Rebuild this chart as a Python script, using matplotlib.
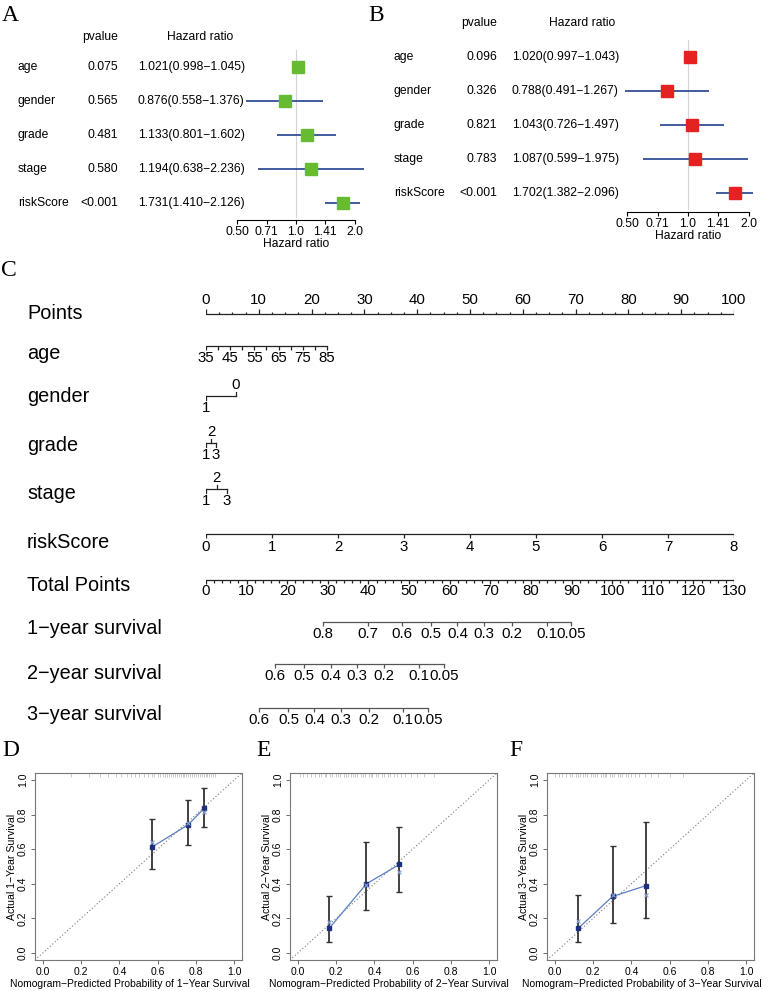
import numpy as np
import matplotlib
matplotlib.use("Agg")
import matplotlib.pyplot as plt
from matplotlib.transforms import blended_transform_factory as blend
from matplotlib.ticker import NullLocator

plt.rcParams['font.family'] = ['Liberation Sans', 'DejaVu Sans']

# ---------------- forest plots (A: univariate, B: multivariate) ----------------
variables = ['age', 'gender', 'grade', 'stage', 'riskScore']
a_pvalue = ['0.075', '0.565', '0.481', '0.580', '<0.001']
a_hr = [1.021, 0.876, 1.133, 1.194, 1.731]
a_low = [0.998, 0.558, 0.801, 0.638, 1.410]
a_high = [1.045, 1.376, 1.602, 2.236, 2.126]
b_pvalue = ['0.096', '0.326', '0.821', '0.783', '<0.001']
b_hr = [1.020, 0.788, 1.043, 1.087, 1.702]
b_low = [0.997, 0.491, 0.726, 0.599, 1.382]
b_high = [1.043, 1.267, 1.497, 1.975, 2.096]
hr_ticks = [0.50, 0.71, 1.0, 1.41, 2.0]
hr_tick_labels = ['0.50', '0.71', '1.0', '1.41', '2.0']

# ---------------- nomogram (C) ----------------
point_ticks = np.arange(0, 100.1, 2.5)
point_labels = list(range(0, 101, 10))
age_ticks = list(range(35, 86, 5))
age_labels = [35, 45, 55, 65, 75, 85]
age_points = (0, 22.9)          # points at age 35 and 85
gender_levels = ['0', '1']
gender_points = [5.7, 0]
grade_levels = ['1', '2', '3']
grade_points = [0, 0.95, 1.8]
stage_levels = ['1', '2', '3']
stage_points = [0, 2.0, 3.9]
risk_ticks = list(range(0, 9))
total_max = 130
total_ticks = np.arange(0, 131, 2)
total_labels = list(range(0, 131, 10))
surv1_labels = ['0.8', '0.7', '0.6', '0.5', '0.4', '0.3', '0.2', '0.1', '0.05']
surv1_total = [28.7, 39.8, 48.3, 55.4, 61.9, 68.4, 75.3, 83.9, 89.9]
surv2_labels = ['0.6', '0.5', '0.4', '0.3', '0.2', '0.1', '0.05']
surv2_total = [17.0, 24.2, 30.7, 37.1, 43.9, 52.4, 58.7]
surv3_labels = ['0.6', '0.5', '0.4', '0.3', '0.2', '0.1', '0.05']
surv3_total = [13.0, 20.3, 26.7, 33.2, 40.1, 48.4, 54.7]

# ---------------- calibration curves (D, E, F) ----------------
d_pred = [0.570, 0.760, 0.842]
d_obs = [0.612, 0.742, 0.835]
d_lo = [0.484, 0.622, 0.729]
d_hi = [0.775, 0.884, 0.952]
d_corr = [0.640, 0.750, 0.812]
d_rug = [0.15, 0.24, 0.30, 0.34, 0.38, 0.41, 0.44, 0.46, 0.48, 0.50, 0.53, 0.55,
         0.57, 0.58, 0.60, 0.61, 0.63, 0.64, 0.65, 0.66, 0.67, 0.68, 0.69, 0.70,
         0.71, 0.72, 0.73, 0.74, 0.75, 0.76, 0.77, 0.78, 0.79, 0.80, 0.81, 0.82,
         0.83, 0.84, 0.85, 0.86, 0.87, 0.88, 0.89, 0.90]

e_pred = [0.164, 0.359, 0.531]
e_obs = [0.142, 0.400, 0.512]
e_lo = [0.062, 0.247, 0.355]
e_hi = [0.328, 0.644, 0.726]
e_corr = [0.181, 0.396, 0.468]
e_rug = [0.01, 0.03, 0.05, 0.07, 0.09, 0.11, 0.12, 0.14, 0.15, 0.17, 0.18, 0.20,
         0.21, 0.22, 0.24, 0.25, 0.26, 0.28, 0.29, 0.30, 0.31, 0.33, 0.34, 0.35,
         0.37, 0.38, 0.39, 0.41, 0.42, 0.44, 0.45, 0.47, 0.48, 0.50, 0.52, 0.54,
         0.56, 0.59, 0.62, 0.66, 0.71]

f_pred = [0.124, 0.302, 0.478]
f_obs = [0.144, 0.327, 0.390]
f_lo = [0.063, 0.173, 0.202]
f_hi = [0.333, 0.621, 0.756]
f_corr = [0.185, 0.333, 0.333]
f_rug = [0.00, 0.02, 0.04, 0.06, 0.08, 0.09, 0.11, 0.12, 0.13, 0.15, 0.16, 0.17,
         0.19, 0.20, 0.21, 0.22, 0.24, 0.25, 0.26, 0.27, 0.29, 0.30, 0.31, 0.33,
         0.34, 0.35, 0.37, 0.38, 0.40, 0.42, 0.44, 0.47, 0.50, 0.54, 0.60, 0.67]

W, H = 768, 991
fig = plt.figure(figsize=(W / 100, H / 100), dpi=100)


def fx(px):
    return px / W


def fy(py):
    return 1 - py / H


def box(left, top, right, bottom):
    return [fx(left), fy(bottom), (right - left) / W, (bottom - top) / H]


def letter(x, y, s):
    fig.text(fx(x), fy(y), s, family=['Liberation Serif', 'DejaVu Serif'],
             fontsize=17, ha='left', va='baseline')


# ---- forest plots ----
def forest(ax_box, row0, head_y, xs, hr, low, high, pvals, color):
    left, top, right, bottom = ax_box
    ax = fig.add_axes(box(*ax_box))
    ax.set_facecolor('none')
    ax.set_xscale('log', base=2)
    ax.set_xlim(hr_ticks[0], hr_ticks[-1])
    ax.set_ylim(bottom, top)
    ys = row0 + 34 * np.arange(len(variables))
    ax.plot([1, 1], [ys[0] - 17, bottom - 3], color='#d4d4d4', lw=0.8, zorder=1)
    ax.hlines(ys, low, high, color='#23408e', lw=1.2, clip_on=False, zorder=2)
    ax.plot(hr, ys, 's', ms=8, color=color, mec=color, zorder=3, clip_on=False)
    tr = blend(fig.transFigure, ax.transData)
    name_x, p_x, hr_x, head_x = xs
    for y, name, p, h, lo, hi in zip(ys, variables, pvals, hr, low, high):
        ax.text(fx(name_x), y, name, transform=tr, ha='left', va='center', fontsize=8.7)
        ax.text(fx(p_x), y, p, transform=tr, ha='right', va='center', fontsize=8.7)
        ax.text(fx(hr_x), y, f'{h:.3f}({lo:.3f}\u2212{hi:.3f})', transform=tr,
                ha='left', va='center', fontsize=8.7)
    ax.text(fx(p_x), head_y, 'pvalue', transform=tr, ha='right', va='center', fontsize=8.7)
    ax.text(fx(head_x), head_y, 'Hazard ratio', transform=tr, ha='center', va='center',
            fontsize=8.7)
    for s in ['top', 'right', 'left']:
        ax.spines[s].set_visible(False)
    ax.spines['bottom'].set_linewidth(0.8)
    ax.set_yticks([])
    ax.xaxis.set_minor_locator(NullLocator())
    ax.set_xticks(hr_ticks)
    ax.set_xticklabels(hr_tick_labels)
    ax.tick_params(axis='x', length=3, width=0.8, pad=1, labelsize=8.7)
    ax.set_xlabel('Hazard ratio', fontsize=8.7, labelpad=0.5)
    return ax


forest((237, 45, 355, 220), 67, 37, (18, 118, 138, 200),
       a_hr, a_low, a_high, a_pvalue, '#66bb33')
forest((627, 35, 749, 212), 57, 23, (394, 497, 512, 582),
       b_hr, b_low, b_high, b_pvalue, '#e52222')
letter(2, 21, 'A')
letter(368, 21, 'B')

# ---- nomogram ----
axn = fig.add_axes(box(206, 290, 734, 730))
axn.set_xlim(0, 100)
axn.set_ylim(730, 290)
axn.axis('off')
trn = blend(fig.transFigure, axn.transData)
dark = '#222222'
grey = '#555555'
lw = 0.9
fs = 10.8

row_names = ['Points', 'age', 'gender', 'grade', 'stage', 'riskScore', 'Total Points',
             '1\u2212year survival', '2\u2212year survival', '3\u2212year survival']
row_y = [313, 353, 396, 445, 493, 542, 585, 628, 673, 714]
for name, y in zip(row_names, row_y):
    axn.text(fx(27), y, name, transform=trn, ha='left', va='center', fontsize=14.3)

# Points scale (labels above)
axn.plot([0, 100], [314, 314], color=dark, lw=lw)
major = (point_ticks % 10) == 0
axn.vlines(point_ticks[major], 314, 309, color=dark, lw=lw)
axn.vlines(point_ticks[~major], 314, 311.5, color=dark, lw=lw)
for v in point_labels:
    axn.text(v, 300, str(v), ha='center', va='center', fontsize=fs)

# age
age_x = np.interp(age_ticks, [age_ticks[0], age_ticks[-1]], age_points)
axn.plot([age_x[0], age_x[-1]], [346, 346], color=dark, lw=lw)
axn.vlines(age_x, 346, 350, color=dark, lw=lw)
for v in age_labels:
    axn.text(np.interp(v, [age_ticks[0], age_ticks[-1]], age_points), 358, str(v),
             ha='center', va='center', fontsize=fs)


def categorical(levels, pts, y, sides):
    axn.plot([min(pts), max(pts)], [y, y], color=dark, lw=lw)
    for lev, p, side in zip(levels, pts, sides):
        if side == 'up':
            axn.plot([p, p], [y, y - 4], color=dark, lw=lw)
            axn.text(p, y - 11, lev, ha='center', va='center', fontsize=fs)
        else:
            axn.plot([p, p], [y, y + 4], color=dark, lw=lw)
            axn.text(p, y + 12, lev, ha='center', va='center', fontsize=fs)


categorical(gender_levels, gender_points, 396, ['up', 'down'])
categorical(grade_levels, grade_points, 443, ['down', 'up', 'down'])
categorical(stage_levels, stage_points, 489, ['down', 'up', 'down'])

# riskScore
risk_x = np.interp(risk_ticks, [0, 8], [0, 100])
axn.plot([0, 100], [534, 534], color=dark, lw=lw)
axn.vlines(risk_x, 534, 538, color=dark, lw=lw)
for v, x in zip(risk_ticks, risk_x):
    axn.text(x, 547, str(v), ha='center', va='center', fontsize=fs)

# Total Points
tot_x = np.interp(total_ticks, [0, total_max], [0, 100])
tmaj = (total_ticks % 10) == 0
axn.plot([0, 100], [580, 580], color=dark, lw=lw)
axn.vlines(tot_x[tmaj], 580, 584, color=dark, lw=lw)
axn.vlines(tot_x[~tmaj], 580, 582.5, color=dark, lw=lw)
for v in total_labels:
    axn.text(np.interp(v, [0, total_max], [0, 100]), 591, str(v),
             ha='center', va='center', fontsize=fs)

# survival scales
for labels, tot, y in [(surv1_labels, surv1_total, 622),
                       (surv2_labels, surv2_total, 664),
                       (surv3_labels, surv3_total, 708)]:
    xs = np.interp(tot, [0, total_max], [0, 100])
    axn.plot([xs[0], xs[-1]], [y, y], color=grey, lw=lw)
    axn.vlines(xs, y, y + 4, color=grey, lw=lw)
    for lab, x in zip(labels, xs):
        axn.text(x, y + 12, lab, ha='center', va='center', fontsize=fs)

letter(1, 276, 'C')


# ---- calibration curves ----
def calib(ax_box, pred, obs, lo, hi, corr, rug, year, label_x):
    ax = fig.add_axes(box(*ax_box))
    ax.set_xlim(-0.04, 1.04)
    ax.set_ylim(-0.04, 1.04)
    ax.plot([-0.04, 1.04], [-0.04, 1.04], ls=(0, (1, 2)), color='#7a7a7a', lw=0.8)
    ax.vlines(rug, 1.018, 1.04, color='#b5b5b5', lw=0.5)
    pred, obs, lo, hi = map(np.asarray, (pred, obs, lo, hi))
    ax.errorbar(pred, obs, yerr=[obs - lo, hi - obs], fmt='none', ecolor='#333333',
                elinewidth=1.3, capsize=2.2, capthick=1.0, zorder=2)
    ax.plot(pred, obs, '-', color='#5b7fc4', lw=0.9, zorder=3)
    ax.plot(pred, obs, 's', ms=2.6, color='#1f2f80', zorder=4)
    ax.plot(pred, corr, 'x', ms=3, mew=0.8, color='#86a3d8', zorder=4)
    ticks = np.round(np.arange(0, 1.01, 0.2), 1)
    ax.set_xticks(ticks)
    ax.set_xticklabels([f'{t:.1f}' for t in ticks])
    ax.set_yticks(ticks)
    ax.set_yticklabels([f'{t:.1f}' for t in ticks], rotation=90, va='center')
    ax.tick_params(labelsize=7.5, length=3, width=0.6, color='#555555', pad=2)
    for s in ax.spines.values():
        s.set_color('#777777')
        s.set_linewidth(0.8)
    ax.set_xlabel(f'Nomogram\u2212Predicted Probability of {year}\u2212Year Survival',
                  fontsize=7.5, labelpad=1.2)
    ax.xaxis.label.set_x(label_x)
    ax.set_ylabel(f'Actual {year}\u2212Year Survival', fontsize=7.6, labelpad=0.8)
    return ax


calib((35, 773, 242, 960), d_pred, d_obs, d_lo, d_hi, d_corr, d_rug, 1, 0.46)
calib((290, 773, 497, 960), e_pred, e_obs, e_lo, e_hi, e_corr, e_rug, 2, 0.48)
calib((547, 773, 754, 960), f_pred, f_obs, f_lo, f_hi, f_corr, f_rug, 3, 0.46)
letter(2, 756, 'D')
letter(256, 756, 'E')
letter(509, 756, 'F')

fig.savefig('out.png', dpi=100)
